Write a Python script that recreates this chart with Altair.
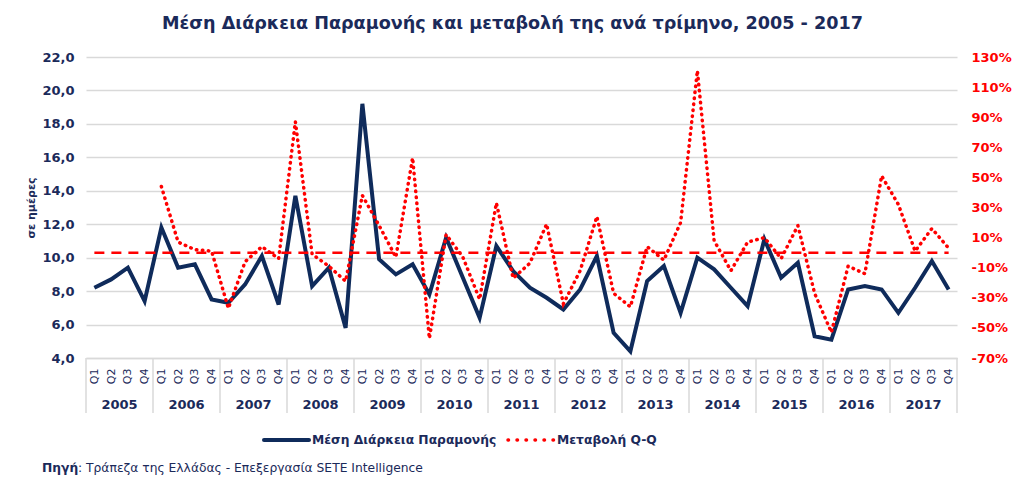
import altair as alt
import pandas as pd

# ---------------- data ----------------
years = [str(y) for y in range(2005, 2018)]
quarters = ["Q1", "Q2", "Q3", "Q4"]

# Average length of stay (days), 2005Q1 .. 2017Q4
avg_stay = [
    8.2, 8.7, 9.4, 7.4,
    11.8, 9.4, 9.6, 7.5,
    7.3, 8.4, 10.1, 7.2,
    13.7, 8.3, 9.4, 5.8,
    19.2, 9.9, 9.0, 9.6,
    7.8, 11.2, 8.8, 6.4,
    10.7, 9.2, 8.2, 7.6,
    6.9, 8.1, 10.1, 5.5,
    4.4, 8.6, 9.5, 6.7,
    10.0, 9.3, 8.2, 7.1,
    11.1, 8.8, 9.7, 5.3,
    5.1, 8.1, 8.3, 8.1,
    6.7, 8.2, 9.8, 8.1,
]

# Change (%), starts 2006Q1
qq_change = [None, None, None, None,
    44, 7, 2, 1,
    -37, -6, 4, -4,
    87, -1, -9, -19,
    38, 18, -3, 63,
    -57, 12, -3, -31,
    33, -17, -7, 19,
    -34, -12, 24, -27,
    -36, 4, -5, 20,
    121, 8, -12, 7,
    10, -4, 18, -27,
    -53, -9, -14, 51,
    32, 1, 16, 3,
]

left_ticks = [4, 6, 8, 10, 12, 14, 16, 18, 20, 22]
right_ticks = [-70, -50, -30, -10, 10, 30, 50, 70, 90, 110, 130]

title_text = "Μέση Διάρκεια Παραμονής και μεταβολή της ανά τρίμηνο, 2005 - 2017"
axis_title = "σε ημέρες"
legend_stay = "Μέση Διάρκεια Παραμονής"
legend_chg = "Μεταβολή Q-Q"
source_bold = "Πηγή"
source_rest = ": Τράπεζα της Ελλάδας - Επεξεργασία SETE Intelligence"

# ---------------- styling ----------------
NAVY = "#0F2B5B"
TEXT = "#1B2A5A"
RED = "#FF0000"
GRID = "#D9D9D9"
FONT = "DejaVu Sans"
W, H = 871, 301
N = len(avg_stay)

df = pd.DataFrame({
    "idx": list(range(N)),
    "stay": avg_stay,
    "chg": qq_change,
})
years_df = pd.DataFrame({"year": years, "idx": [4 * k + 1.5 for k in range(len(years))]})
sep_df = pd.DataFrame({"idx": [4 * k - 0.5 for k in range(len(years) + 1)]})
zero_df = pd.DataFrame({"idx": [0], "x1": [N - 1], "chg": [0]})
one = pd.DataFrame({"a": [0]})

xscale = alt.Scale(domain=[-0.5, N - 0.5], nice=False, zero=False)
yl_scale = alt.Scale(domain=[4, 22], nice=False, zero=False)
yr_scale = alt.Scale(domain=[-70, 130], nice=False, zero=False)

x_axis = alt.Axis(
    values=list(range(N)),
    labelExpr="'Q' + (datum.value % 4 + 1)",
    labelAngle=270,
    labelFont=FONT,
    labelFontSize=11,
    labelColor=TEXT,
    labelPadding=10,
    labelOverlap=False,
    labelBound=False,
    labelFlush=False,
    ticks=False,
    grid=False,
    domainColor=GRID,
    domainWidth=1.5,
    title=None,
)

left_axis = alt.Axis(
    values=left_ticks,
    labelExpr="replace(format(datum.value, '.1f'), '.', ',')",
    labelFont=FONT,
    labelFontSize=13,
    labelFontWeight="bold",
    labelColor=TEXT,
    labelPadding=12,
    grid=True,
    gridColor=GRID,
    gridWidth=1.5,
    domain=False,
    ticks=False,
    title=axis_title,
    titleFont=FONT,
    titleFontSize=11,
    titleFontWeight="bold",
    titleColor=TEXT,
    titlePadding=5,
)

right_axis = alt.Axis(
    orient="right",
    values=right_ticks,
    labelExpr="datum.value + '%'",
    labelFont=FONT,
    labelFontSize=13,
    labelFontWeight="bold",
    labelColor=RED,
    labelPadding=14,
    grid=False,
    domain=False,
    ticks=False,
    title=None,
)

X = alt.X("idx:Q", scale=xscale, axis=x_axis)

navy_line = alt.Chart(df).mark_line(color=NAVY, strokeWidth=4, strokeJoin="miter").encode(
    x=X,
    y=alt.Y("stay:Q", scale=yl_scale, axis=left_axis),
)

separators = alt.Chart(sep_df).mark_rule(color=GRID, strokeWidth=1.5).encode(
    x=X,
    y=alt.value(H),
    y2=alt.value(H + 55),
)

year_labels = alt.Chart(years_df).mark_text(
    font=FONT, fontSize=13, fontWeight="bold", color=TEXT, baseline="middle"
).encode(
    x=X,
    y=alt.value(H + 47),
    text="year:N",
)

# legend (drawn manually, as in the source)
leg_navy = alt.Chart(one).mark_rule(color=NAVY, strokeWidth=4, strokeCap="round").encode(
    x=alt.value(178), x2=alt.value(223), y=alt.value(383)
)
leg_navy_txt = alt.Chart(one).mark_text(
    font=FONT, fontSize=12.3, fontWeight="bold", color=TEXT, align="left", baseline="middle"
).encode(x=alt.value(226), y=alt.value(383), text=alt.value(legend_stay))
leg_red = alt.Chart(one).mark_rule(
    color=RED, strokeWidth=3.5, strokeDash=[0.5, 8.5], strokeCap="round"
).encode(x=alt.value(422), x2=alt.value(468), y=alt.value(383))
leg_red_txt = alt.Chart(one).mark_text(
    font=FONT, fontSize=12.3, fontWeight="bold", color=TEXT, align="left", baseline="middle"
).encode(x=alt.value(471), y=alt.value(383), text=alt.value(legend_chg))

src_b = alt.Chart(one).mark_text(
    font=FONT, fontSize=12.3, fontWeight="bold", color=TEXT, align="left", baseline="middle"
).encode(x=alt.value(-44), y=alt.value(411), text=alt.value(source_bold))
src_r = alt.Chart(one).mark_text(
    font=FONT, fontSize=12.3, color=TEXT, align="left", baseline="middle"
).encode(x=alt.value(-8), y=alt.value(411), text=alt.value(source_rest))

red_line = alt.Chart(df).mark_line(
    color=RED, strokeWidth=3.5, strokeDash=[0.5, 5.5], strokeCap="round"
).encode(
    x=X,
    y=alt.Y("chg:Q", scale=yr_scale, axis=right_axis),
)

zero_rule = alt.Chart(zero_df).mark_rule(color=RED, strokeWidth=2.5, strokeDash=[10, 7]).encode(
    x=X,
    x2="x1:Q",
    y=alt.Y("chg:Q", scale=yr_scale, axis=right_axis),
)

left_group = alt.layer(navy_line, separators, year_labels, leg_navy, leg_navy_txt,
                       leg_red, leg_red_txt, src_b, src_r)
right_group = alt.layer(zero_rule, red_line)

chart = alt.layer(left_group, right_group).resolve_scale(y="independent").properties(
    width=W,
    height=H,
    autosize=alt.AutoSizeParams(type="none"),
    padding={"left": 86, "top": 57, "right": 67, "bottom": 131},
    background="white",
    title=alt.TitleParams(
        text=title_text,
        font=FONT,
        fontSize=17.6,
        fontWeight="bold",
        color=TEXT,
        anchor="middle",
        offset=18,
        dx=-9,
    ),
).configure_view(stroke=None)

chart.save("out.html", embed_options={"renderer": "svg", "actions": False})
